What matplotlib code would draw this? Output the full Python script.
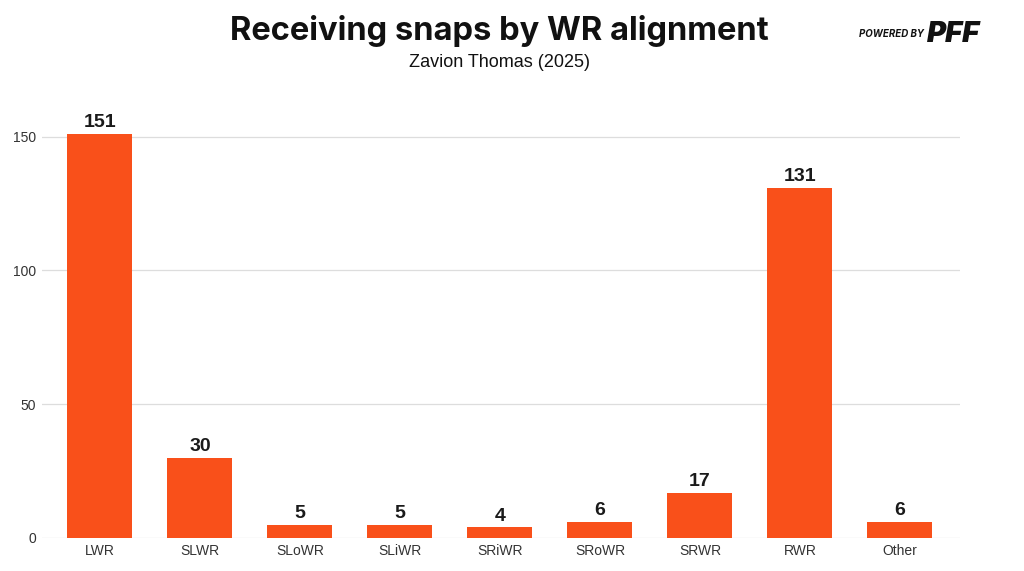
import matplotlib
matplotlib.use('Agg')
import matplotlib.pyplot as plt

# data
positions = ['LWR', 'SLWR', 'SLoWR', 'SLiWR', 'SRiWR', 'SRoWR', 'SRWR', 'RWR', 'Other']
snaps = [151, 30, 5, 5, 4, 6, 17, 131, 6]
y_ticks = [0, 50, 100, 150]

bar_color = '#F9501A'

plt.rcParams['font.family'] = ['Liberation Sans', 'DejaVu Sans']

fig = plt.figure(figsize=(10.24, 5.71), dpi=100)
ax = fig.add_axes([0.041, 0.0578, 0.8965, 0.7496])

x = range(len(positions))
ax.bar(x, snaps, width=0.65, color=bar_color, zorder=3)

for xi, v in zip(x, snaps):
    ax.text(xi, v + 1.0, str(v), ha='center', va='bottom', fontsize=14,
            fontweight='bold', color='#1a1a1a')

ax.set_xlim(-0.58, 8.6)
ax.set_ylim(0, 160)
ax.set_yticks(y_ticks)
ax.set_xticks(list(x))
ax.set_xticklabels(positions)
ax.tick_params(axis='both', length=0, labelsize=10, colors='#333333')
ax.tick_params(axis='x', pad=4)
ax.tick_params(axis='y', pad=4)
ax.grid(axis='y', color='#dddddd', linewidth=0.9, zorder=0)
for s in ax.spines.values():
    s.set_visible(False)

fig.text(0.4875, 0.945, 'Receiving snaps by WR alignment', ha='center', va='center',
         fontsize=23.5, fontweight='bold', family='Inter', color='#111111')
fig.text(0.4875, 0.89, 'Zavion Thomas (2025)', ha='center', va='center',
         fontsize=13, color='#111111')

# powered by PFF mark
fig.text(0.902, 0.94, 'POWERED BY', ha='right', va='center', fontsize=7,
         fontweight='bold', style='italic', family='Inter', color='#111111')
fig.text(0.905, 0.94, 'PFF', ha='left', va='center', fontsize=21,
         fontweight='black', style='italic', family='Inter', color='#111111')

fig.savefig('out.png', dpi=100, facecolor='white')
